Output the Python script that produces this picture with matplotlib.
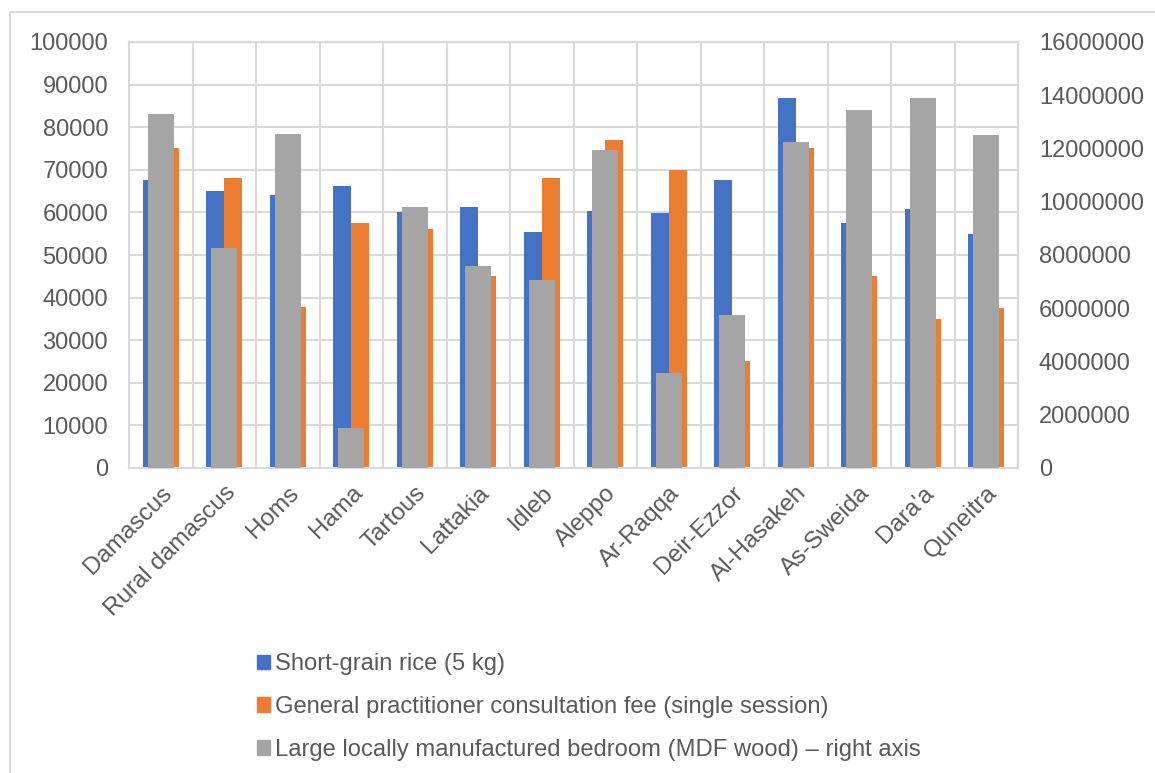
import numpy as np
import matplotlib.pyplot as plt
from matplotlib.patches import Patch, Rectangle
from matplotlib.ticker import StrMethodFormatter

plt.rcParams['font.family'] = ['Liberation Sans', 'DejaVu Sans']

# governorates and prices (SYP)
regions = ['Damascus', 'Rural damascus', 'Homs', 'Hama', 'Tartous', 'Lattakia', 'Idleb',
           'Aleppo', 'Ar-Raqqa', 'Deir-Ezzor', 'Al-Hasakeh', 'As-Sweida', "Dara'a", 'Quneitra']
rice = [67500, 65000, 64000, 66200, 60000, 61300, 55500,
        60300, 59900, 67500, 86800, 57500, 60800, 55000]
doctor_fee = [75000, 68000, 37800, 57500, 56200, 45000, 68000,
              77000, 70000, 25000, 75000, 45000, 35000, 37500]
bedroom = [13300000, 8250000, 12530000, 1500000, 9800000, 7600000, 7050000,
           11950000, 3580000, 5750000, 12250000, 13450000, 13900000, 12500000]

labels = ['Short-grain rice (5 kg)',
          'General practitioner consultation fee (single session)',
          'Large locally manufactured bedroom (MDF wood) – right axis']

c_blue, c_orange, c_gray = '#4472C4', '#ED7D31', '#A5A5A5'
txt = '#595959'
grid = '#D9D9D9'

fig = plt.figure(figsize=(11.55, 7.73), dpi=100)
ax = fig.add_axes([129/1155, 1 - 468/773, (1018 - 129)/1155, (468 - 42)/773])
ax2 = ax.twinx()

x = np.arange(len(regions))
w = 0.283
ax.bar(x - w/2, rice, w, color=c_blue, zorder=3)
ax.bar(x + w/2, doctor_fee, w, color=c_orange, zorder=3)
ax2.bar(x, bedroom, 0.41, color=c_gray, zorder=3)

ax.set_xlim(-0.5, len(regions) - 0.5)
ax.set_ylim(0, 100000)
ax.set_yticks(np.arange(0, 100001, 10000))
ax2.set_ylim(0, 16000000)
ax2.set_yticks(np.arange(0, 16000001, 2000000))
ax.yaxis.set_major_formatter(StrMethodFormatter('{x:.0f}'))
ax2.yaxis.set_major_formatter(StrMethodFormatter('{x:.0f}'))

# gridlines: horizontal at each tick, vertical between categories
for y in np.arange(10000, 100001, 10000):
    ax.axhline(y, color=grid, lw=1.5, zorder=1)
for b in np.arange(0.5, len(regions) - 1, 1):
    ax.axvline(b, color=grid, lw=1.5, zorder=1)

for a in (ax, ax2):
    for s in a.spines.values():
        s.set_color(grid)
        s.set_linewidth(1.5)
    a.tick_params(length=0, labelsize=17, labelcolor=txt)
ax.tick_params(axis='y', pad=15)
ax2.tick_params(axis='y', pad=15)

ax.set_xticks(x)
ax.set_xticklabels(regions, rotation=45, ha='right', va='top', rotation_mode='anchor',
                   fontsize=17.5)
ax.tick_params(axis='x', pad=10)

handles = [Patch(color=c_blue), Patch(color=c_orange), Patch(color=c_gray)]
fig.legend(handles, labels, loc='center left', bbox_to_anchor=(245/1155, 1 - 707/773),
           frameon=False, fontsize=17.1, labelcolor=txt, handlelength=0.55, handleheight=0.55,
           handletextpad=0.2, labelspacing=0.88, borderpad=0)

# chart area border
fig.patches.append(Rectangle((10/1155, -0.1), 1.2, 1 - 12/773 + 0.1, transform=fig.transFigure,
                             fill=False, edgecolor=grid, lw=1.5, zorder=0))

fig.savefig('out.png', dpi=100)
